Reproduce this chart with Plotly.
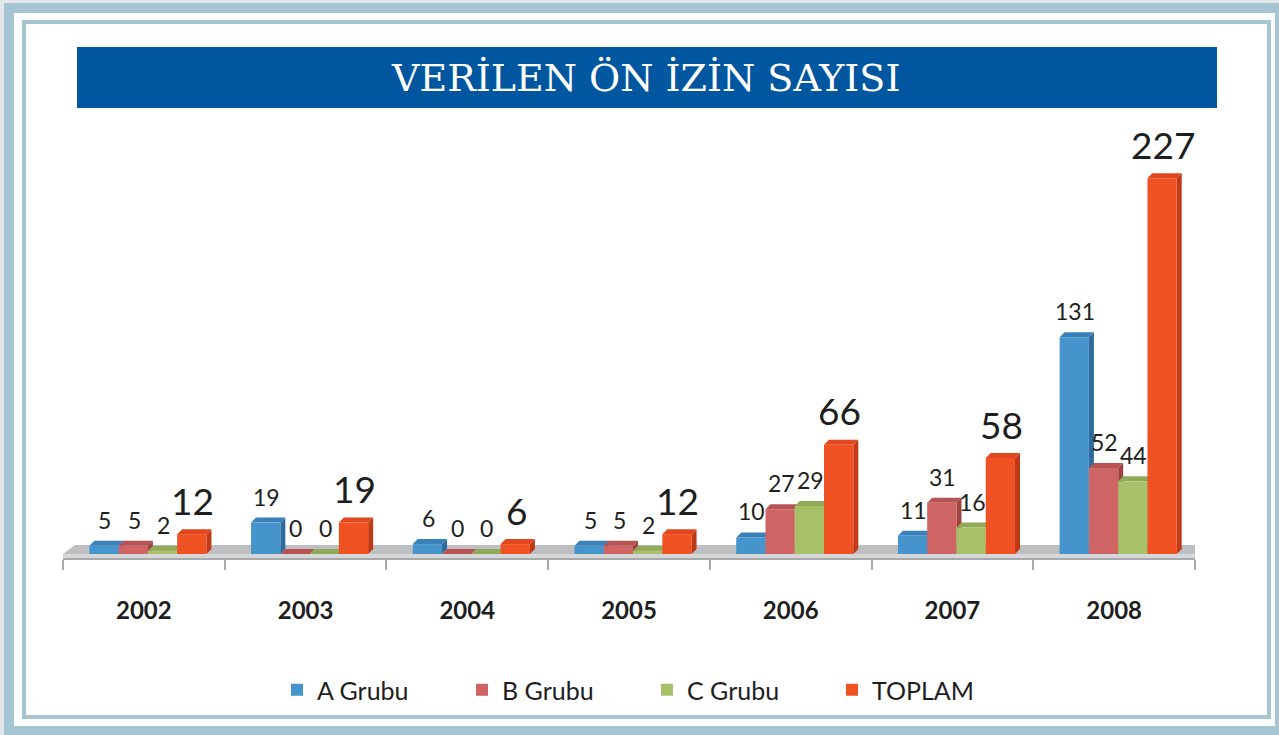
import plotly.graph_objects as go

# ---- data -------------------------------------------------------------
years = ["2002", "2003", "2004", "2005", "2006", "2007", "2008"]
a_grubu = [5, 19, 6, 5, 10, 11, 131]
b_grubu = [5, 0, 0, 5, 27, 31, 52]
c_grubu = [2, 0, 0, 2, 29, 16, 44]
toplam = [12, 19, 6, 12, 66, 58, 227]

series_names = ["A Grubu", "B Grubu", "C Grubu", "TOPLAM"]
series_values = [a_grubu, b_grubu, c_grubu, toplam]

# front / top / side colours for the pseudo-3D columns
front_colors = ["#4594CC", "#CF6464", "#A8C068", "#F15224"]
top_colors = ["#3A80BA", "#B95353", "#92AA57", "#E0471C"]
side_colors = ["#2E6A9C", "#9E4242", "#7B9046", "#C13A17"]

# ---- geometry (page pixels) -------------------------------------------
W, H = 1279, 735
PX_L, PX_R = 63, 1195          # plot area left / right
PX_T, PX_B = 120, 558          # plot area top / bottom (axis line)
PX_ZERO = 554                  # pixel row of value 0
SCALE = 1.655                  # pixels per unit of value
CAT_PX = (PX_R - PX_L) / len(years)

y_min = -(PX_B - PX_ZERO) / SCALE
y_max = (PX_ZERO - PX_T) / SCALE

bar_w = 0.181
offsets = [-0.337, -0.156, 0.025, 0.206]
depth_x = 5 / CAT_PX
depth_y = 5 / SCALE


def fx(px):
    return (px - PX_L) / (PX_R - PX_L)


def fy(py):
    return (PX_B - py) / (PX_B - PX_T)


FRAME = "#A6C5D2"
shapes = []

# page frame: thick outer band, white gap, thin inner line
shapes.append(dict(type="rect", xref="paper", yref="paper", layer="below",
                   x0=fx(0), x1=fx(W), y0=fy(H), y1=fy(0),
                   fillcolor="#E4E7E9", line_width=0))
shapes.append(dict(type="rect", xref="paper", yref="paper", layer="below",
                   x0=fx(4), x1=fx(W + 10), y0=fy(H + 10), y1=fy(3),
                   fillcolor=FRAME, line_width=0))
shapes.append(dict(type="rect", xref="paper", yref="paper", layer="below",
                   x0=fx(14), x1=fx(1275), y0=fy(726), y1=fy(13),
                   fillcolor="white", line_width=0))
shapes.append(dict(type="rect", xref="paper", yref="paper", layer="below",
                   x0=fx(24), x1=fx(1269), y0=fy(717), y1=fy(22),
                   fillcolor="white", line=dict(color=FRAME, width=4)))

# title banner
shapes.append(dict(type="rect", xref="paper", yref="paper", layer="below",
                   x0=fx(77), x1=fx(1217), y0=fy(108), y1=fy(47),
                   fillcolor="#0057A0", line_width=0))

# floor slab under the columns
x_lo, x_hi = -0.5, len(years) - 0.5
floor_dx = 12 / CAT_PX
floor_dy = 9 / SCALE
shapes.append(dict(type="rect", xref="x", yref="y", layer="below",
                   x0=x_lo, x1=x_hi, y0=y_min, y1=0,
                   fillcolor="#D6D7D9", line_width=0))
shapes.append(dict(type="path", xref="x", yref="y", layer="below",
                   path=(f"M {x_lo},0 L {x_hi},0 L {x_hi + floor_dx},{floor_dy} "
                         f"L {x_lo + floor_dx},{floor_dy} Z"),
                   fillcolor="#BDBFC2", line_width=0))

# top and side faces of each column
for s, vals in enumerate(series_values):
    for i, v in enumerate(vals):
        x0 = i + offsets[s]
        x1 = x0 + bar_w
        shapes.append(dict(type="path", xref="x", yref="y", layer="below",
                           path=(f"M {x1},0 L {x1 + depth_x},{depth_y} "
                                 f"L {x1 + depth_x},{v + depth_y} L {x1},{v} Z"),
                           fillcolor=side_colors[s], line_width=0))
        shapes.append(dict(type="path", xref="x", yref="y", layer="below",
                           path=(f"M {x0},{v} L {x1},{v} L {x1 + depth_x},{v + depth_y} "
                                 f"L {x0 + depth_x},{v + depth_y} Z"),
                           fillcolor=top_colors[s], line_width=0))

fig = go.Figure()
for s, (name, vals) in enumerate(zip(series_names, series_values)):
    fig.add_trace(go.Bar(
        x=list(range(len(years))), y=vals, name=name,
        width=bar_w, offset=offsets[s],
        marker=dict(color=front_colors[s], line_width=0),
        hoverinfo="skip",
    ))

# value labels above the columns
annotations = []
for s, vals in enumerate(series_values):
    big = series_names[s] == "TOPLAM"
    for i, v in enumerate(vals):
        annotations.append(dict(
            x=i + offsets[s] + bar_w / 2 + 1 / CAT_PX, y=v, xref="x", yref="y",
            text=str(v), showarrow=False, yanchor="middle",
            yshift=34 if big else 26,
            font=dict(family="Lato", size=37 if big else 23, color="#1E1E1E"),
        ))

annotations.append(dict(
    x=fx(645), y=fy(78), xref="paper", yref="paper",
    text="VERİLEN ÖN İZİN SAYISI", showarrow=False,
    xanchor="center", yanchor="middle",
    font=dict(family="DejaVu Serif", size=38, color="white"),
))

fig.update_layout(
    width=W, height=H,
    margin=dict(l=PX_L, r=W - PX_R, t=PX_T, b=H - PX_B, autoexpand=False),
    paper_bgcolor="white", plot_bgcolor="rgba(0,0,0,0)",
    barmode="overlay", showlegend=True,
    shapes=shapes, annotations=annotations,
    legend=dict(orientation="h", x=fx(277), y=fy(690), xanchor="left",
                yanchor="middle", entrywidth=140, entrywidthmode="pixels",
                font=dict(family="Lato", size=25, color="#1E1E1E"),
                bgcolor="rgba(0,0,0,0)", traceorder="normal"),
    xaxis=dict(range=[x_lo, x_hi], tickvals=list(range(len(years))),
               ticktext=years, ticks="", showgrid=False, zeroline=False,
               showline=True, linecolor="#A8A9AB", linewidth=1.5,
               ticklabelstandoff=30,
               tickfont=dict(family="Lato", size=24, color="#1E1E1E", weight="bold"),
               minor=dict(tickvals=[k - 0.5 for k in range(len(years) + 1)],
                          ticks="outside", ticklen=10, tickcolor="#A8A9AB",
                          tickwidth=1.5, showgrid=False),
               fixedrange=True),
    yaxis=dict(range=[y_min, y_max], visible=False, fixedrange=True),
)

fig.write_html("out.html", config={"displayModeBar": False})
